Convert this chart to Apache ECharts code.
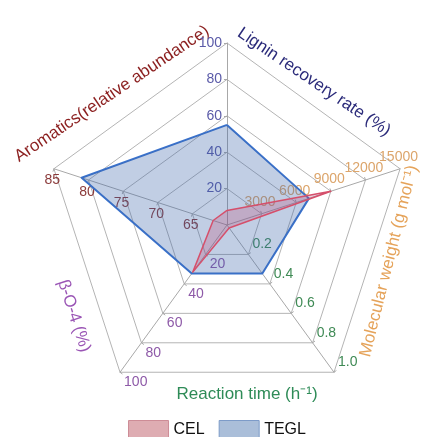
<!DOCTYPE html>
<html><head><meta charset="utf-8">
<script src="https://cdn.jsdelivr.net/npm/echarts@6/dist/echarts.min.js"></script>
<style>html,body{margin:0;padding:0;background:#fff}#c{width:434px;height:437px}</style>
</head><body><div id="c"></div>
<script>
// indicators listed counter-clockwise from the top
const indicatorNames = ['Lignin recovery rate (%)', 'Aromatics(relative abundance)', 'β-O-4 (%)', 'Reaction time (h⁻¹)', 'Molecular weight (g mol⁻¹)'];
const axisMin = [0, 60, 0, 0, 0];
const axisMax = [100, 85, 100, 1.0, 15000];
const labelDecimals = [0, 0, 0, 1, 0];
const seriesNames = ['CEL', 'TEGL'];
const celValues = [8, 62, 32, 0.02, 9000];
const teglValues = [55, 81, 33, 0.33, 7100];

const labelColors = ['#5a5aa8', '#8b3a3a', '#8e5aa8', '#3f8a55', '#dca56b'];
const nameColors = ['#2b2b7a', '#8b1f1f', '#9a55b5', '#2e8b57', '#e5a35a'];
// tick-label anchoring per axis (layout only)
const labelAlign = [
  {align: 'right', verticalAlign: 'middle'},
  {align: 'center', verticalAlign: 'top'},
  {align: 'left', verticalAlign: 'top'},
  {align: 'left', verticalAlign: 'bottom'},
  {align: 'center', verticalAlign: 'bottom'}
];
const FONT = '"Liberation Sans", Arial, sans-serif';
const MW = 4; // index of molecular weight axis

const chart = echarts.init(document.getElementById('c'), null, {renderer: 'canvas'});
// main radar: grid + all tick labels (MW max label drawn by overlay radar)
const indicatorMain = indicatorNames.map((n, i) => {
  const lab = Object.assign({color: labelColors[i], formatter: v => Number(v).toFixed(labelDecimals[i])}, labelAlign[i]);
  if (i === MW) lab.showMaxLabel = false;
  return {name: n, min: axisMin[i], max: axisMax[i], axisLabel: lab};
});
// overlay radar: only the MW max tick label, to avoid the automatic overlap hiding
const indicatorOverlay = indicatorNames.map((n, i) => ({
  name: n, min: axisMin[i], max: axisMax[i],
  axisLabel: i === MW
    ? Object.assign({show: true, color: labelColors[i], formatter: v => (v === axisMax[i] ? String(v) : '')}, labelAlign[i])
    : {show: false}
}));

// name label placement (layout only)
const namePos = [
  {x: 314, y: 82, r: -34},
  {x: 112, y: 94, r: 34},
  {x: 74, y: 316, r: -72},
  {x: 247, y: 394, r: 0},
  {x: 389, y: 261, r: 76}
];

const radarBase = {
  center: [227, 225], radius: 182, splitNumber: 5, shape: 'polygon',
  axisName: {show: false}, splitArea: {show: false}
};

chart.setOption({
  animation: false,
  radar: [
    Object.assign({}, radarBase, {
      indicator: indicatorMain,
      axisLine: {lineStyle: {color: '#a8a8a8', width: 1}},
      splitLine: {lineStyle: {color: '#b4b4b4', width: 1}},
      axisTick: {show: true, length: 3, lineStyle: {color: '#a8a8a8'}},
      axisLabel: {show: true, showMinLabel: false, showMaxLabel: true, fontSize: 14, margin: 5, fontFamily: FONT}
    }),
    Object.assign({}, radarBase, {
      indicator: indicatorOverlay,
      axisLine: {show: false}, splitLine: {show: false}, axisTick: {show: false},
      axisLabel: {show: true, showMinLabel: false, showMaxLabel: true, fontSize: 14, margin: 5, fontFamily: FONT}
    })
  ],
  legend: {
    data: [
      {name: 'CEL', itemStyle: {color: 'rgb(222,172,178)', borderColor: 'rgb(205,140,150)', borderWidth: 1}},
      {name: 'TEGL', itemStyle: {color: 'rgb(170,190,217)', borderColor: 'rgb(125,155,200)', borderWidth: 1}}
    ],
    icon: 'rect', top: 415, left: 'center', itemWidth: 40, itemHeight: 19, itemGap: 14,
    textStyle: {fontSize: 16, color: '#111', fontFamily: FONT}
  },
  graphic: indicatorNames.map((n, i) => ({
    type: 'text', x: namePos[i].x, y: namePos[i].y, rotation: namePos[i].r * Math.PI / 180,
    style: {text: n, fill: nameColors[i], font: '17px ' + FONT, align: 'center', verticalAlign: 'middle'}
  })),
  series: [
    {type: 'radar', name: 'TEGL', radarIndex: 0, symbol: 'none', z: 2,
     data: [{name: seriesNames[1], value: teglValues}],
     lineStyle: {color: '#3a72cc', width: 2},
     itemStyle: {color: '#3a72cc'},
     areaStyle: {color: 'rgba(60,100,170,0.45)'}},
    {type: 'radar', name: 'CEL', radarIndex: 0, symbol: 'none', z: 3,
     data: [{name: seriesNames[0], value: celValues}],
     lineStyle: {color: '#d9506a', width: 1.5},
     itemStyle: {color: '#d9506a'},
     areaStyle: {color: 'rgba(190,80,120,0.4)'}}
  ]
});
</script></body></html>
